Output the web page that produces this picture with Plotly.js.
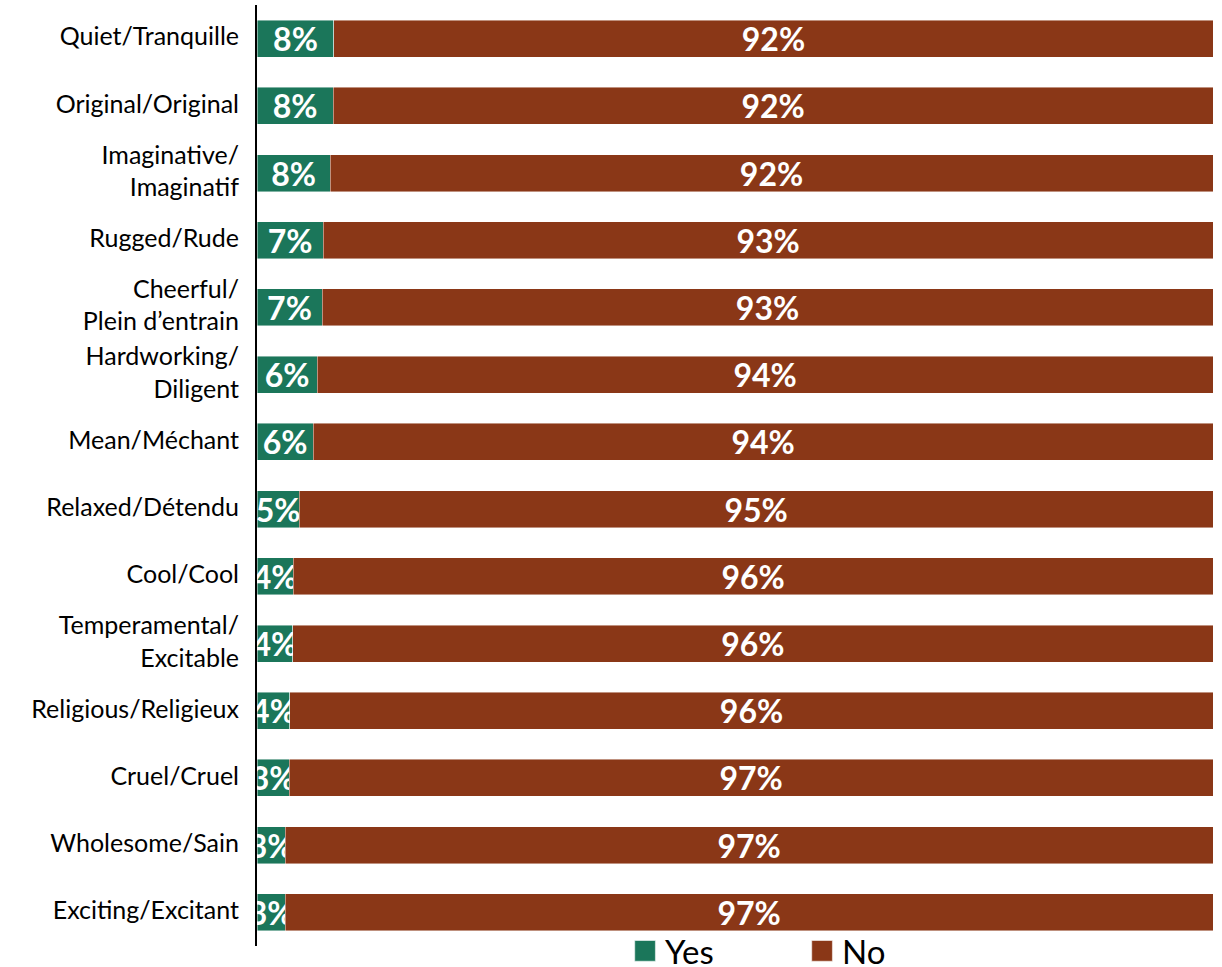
<!DOCTYPE html>
<html>
<head>
<meta charset="utf-8">
<script src="https://cdn.plot.ly/plotly-3.0.1.min.js"></script>
<style>html,body{margin:0;padding:0;background:#fff;}#chart{width:1222px;height:967px;}</style>
</head>
<body>
<div id="chart"></div>
<script>
const categories = [
  "Quiet/Tranquille",
  "Original/Original",
  "Imaginative/<br>Imaginatif",
  "Rugged/Rude",
  "Cheerful/<br>Plein d’entrain",
  "Hardworking/<br>Diligent",
  "Mean/Méchant",
  "Relaxed/Détendu",
  "Cool/Cool",
  "Temperamental/<br>Excitable",
  "Religious/Religieux",
  "Cruel/Cruel",
  "Wholesome/Sain",
  "Exciting/Excitant"
];
const yesValues = [8.05, 7.98, 7.64, 6.94, 6.8, 6.31, 5.89, 4.42, 3.8, 3.73, 3.45, 3.38, 2.96, 2.96];
const noValues  = [91.95, 92.02, 92.36, 93.06, 93.2, 93.69, 94.11, 95.58, 96.2, 96.27, 96.55, 96.62, 97.04, 97.04];
const yesLabels = ["8%","8%","8%","7%","7%","6%","6%","5%","4%","4%","4%","3%","3%","3%"];
const noLabels  = ["92%","92%","92%","93%","93%","94%","94%","95%","96%","96%","96%","97%","97%","97%"];

const GREEN = "#1B765A";
const BROWN = "#8A3717";
const FONT = "Lato, 'Open Sans', sans-serif";
const labelFont = {family: FONT, size: 32, color: "#FFFFFF", weight: 700};

const traces = [
  {
    type: "bar", orientation: "h", name: "Yes",
    y: categories, x: yesValues, text: yesLabels,
    textposition: "inside", insidetextanchor: "middle", constraintext: "none", textangle: 0,
    textfont: labelFont, cliponaxis: true,
    marker: {color: GREEN, line: {color: "rgba(255,255,255,0.6)", width: 0.75}},
    hoverinfo: "skip"
  },
  {
    type: "bar", orientation: "h", name: "No",
    y: categories, x: noValues, text: noLabels,
    textposition: "inside", insidetextanchor: "middle", constraintext: "none", textangle: 0,
    textfont: labelFont, cliponaxis: true,
    marker: {color: BROWN, line: {color: "rgba(255,255,255,0.6)", width: 0.75}},
    hoverinfo: "skip"
  }
];

const layout = {
  width: 1222, height: 967,
  barmode: "stack", bargap: 0.45,
  paper_bgcolor: "#FFFFFF", plot_bgcolor: "#FFFFFF",
  margin: {l: 257, r: 9, t: 5, b: 21, autoexpand: false},
  font: {family: FONT, color: "#000000"},
  xaxis: {range: [0, 100], visible: false, fixedrange: true},
  yaxis: {
    autorange: "reversed", showline: true, linecolor: "#000000", linewidth: 2,
    ticks: "", showgrid: false, zeroline: false, ticklabelstandoff: 11, ticklabelshift: 2,
    tickfont: {family: FONT, size: 25, color: "#000000"},
    fixedrange: true
  },
  showlegend: true,
  legend: {
    orientation: "h", x: 0.385, xanchor: "left", y: -0.0053, yanchor: "middle",
    font: {family: FONT, size: 33, color: "#000000"},
    entrywidth: 132, traceorder: "normal", bgcolor: "rgba(0,0,0,0)"
  }
};

Plotly.newPlot("chart", traces, layout, {staticPlot: true, displayModeBar: false}).then(function (gd) {
  gd.querySelectorAll(".legend .legendpoints path").forEach(function (p) {
    const t = p.getAttribute("transform") || "";
    p.setAttribute("transform", t + " scale(1.75)");
  });
});
</script>
</body>
</html>
